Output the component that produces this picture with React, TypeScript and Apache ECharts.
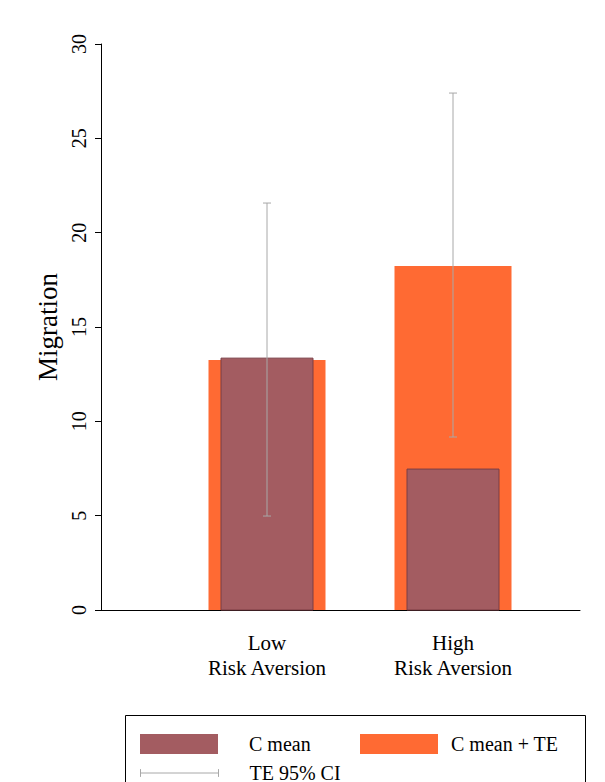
import React, { useEffect, useRef } from "react";
import * as echarts from "echarts";

const categories = ["Low\nRisk Aversion", "High\nRisk Aversion"];
const catPos = [166, 352]; // positions along hidden x scale (0..479)
const cMean = [13.35, 7.47];
const cMeanTE = [13.25, 18.23];
const ciLow = [4.98, 9.17];
const ciHigh = [21.57, 27.4];
const yTicks = [0, 5, 10, 15, 20, 25, 30];

const MAROON = "#a35c61";
const ORANGE = "#ff6a33";
const GREY = "#a8a8a8";
const FONT = "Liberation Serif";

const barItem = (width: number, color: string, border?: string) => (params: any, api: any) => {
  const base = api.coord([api.value(0), 0]);
  const top = api.coord([api.value(0), api.value(1)]);
  return {
    type: "rect",
    shape: { x: base[0] - width / 2, y: top[1], width, height: base[1] - top[1] },
    style: { fill: color, stroke: border ?? "none", lineWidth: border ? 1 : 0 },
  };
};

const App: React.FC = () => {
  const ref = useRef<HTMLDivElement>(null);

  useEffect(() => {
    if (!ref.current) return;
    const chart = echarts.init(ref.current, undefined, { renderer: "svg" });
    const legendText = { fontSize: 20, color: "#000", fontFamily: FONT };
    const option: echarts.EChartsOption = {
      animation: false,
      backgroundColor: "#fff",
      textStyle: { fontFamily: FONT },
      grid: { left: 101, right: 25, top: 44, bottom: 172 },
      xAxis: {
        type: "value",
        min: 0,
        max: 479,
        splitLine: { show: false },
        axisLine: { show: true, onZero: false, lineStyle: { color: "#000" } },
        axisTick: { show: false },
        axisLabel: {
          customValues: catPos,
          formatter: (v: number) => categories[catPos.indexOf(Math.round(v))] ?? "",
          color: "#000",
          fontSize: 21,
          lineHeight: 25,
          margin: 20,
          fontFamily: FONT,
        },
      },
      yAxis: {
        type: "value",
        min: 0,
        max: 30,
        interval: 5,
        name: "Migration",
        nameLocation: "middle",
        nameGap: 40,
        nameTextStyle: { fontSize: 27, color: "#000", fontFamily: FONT },
        splitLine: { show: false },
        axisLine: { show: true, lineStyle: { color: "#000" } },
        axisTick: { show: true, length: 6, lineStyle: { color: "#000" } },
        axisLabel: {
          rotate: 90,
          color: "#000",
          fontSize: 20,
          margin: 12,
          fontFamily: FONT,
          formatter: (v: number) => (yTicks.includes(v) ? String(v) : ""),
        },
      },
      legend: [
        {
          data: [{ name: "C mean", icon: "rect" }],
          left: 135,
          top: 729,
          itemWidth: 78,
          itemHeight: 20,
          textStyle: { ...legendText, padding: [0, 0, 0, 26] },
        },
        {
          data: [{ name: "C mean + TE", icon: "rect" }],
          left: 355,
          top: 729,
          itemWidth: 78,
          itemHeight: 20,
          textStyle: { ...legendText, padding: [0, 0, 0, 8] },
        },
        {
          data: [{ name: "TE 95% CI", icon: "path://M0,5 L100,5 M0,0 L0,10 M100,0 L100,10" }],
          left: 135,
          top: 758,
          itemWidth: 78,
          itemHeight: 10,
          itemStyle: { color: "transparent", borderColor: GREY, borderWidth: 1 },
          textStyle: { ...legendText, padding: [0, 0, 0, 26] },
        },
      ],
      graphic: [
        {
          type: "rect",
          shape: { x: 125.5, y: 715.5, width: 460, height: 80 },
          style: { fill: "none", stroke: "#000", lineWidth: 1 },
        },
      ],
      series: [
        {
          name: "C mean + TE",
          type: "custom",
          itemStyle: { color: ORANGE },
          z: 1,
          data: catPos.map((x, i) => [x, cMeanTE[i]]),
          renderItem: barItem(117, ORANGE) as any,
        },
        {
          name: "C mean",
          type: "custom",
          itemStyle: { color: MAROON },
          z: 2,
          data: catPos.map((x, i) => [x, cMean[i]]),
          renderItem: barItem(92, MAROON, "#7a3d44") as any,
        },
        {
          name: "TE 95% CI",
          type: "custom",
          itemStyle: { color: GREY },
          z: 3,
          data: catPos.map((x, i) => [x, ciLow[i], ciHigh[i]]),
          renderItem: (params: any, api: any) => {
            const lo = api.coord([api.value(0), api.value(1)]);
            const hi = api.coord([api.value(0), api.value(2)]);
            const cap = 4;
            const style = { stroke: GREY, lineWidth: 1 };
            return {
              type: "group",
              children: [
                { type: "line", shape: { x1: lo[0], y1: lo[1], x2: hi[0], y2: hi[1] }, style },
                { type: "line", shape: { x1: lo[0] - cap, y1: lo[1], x2: lo[0] + cap, y2: lo[1] }, style },
                { type: "line", shape: { x1: hi[0] - cap, y1: hi[1], x2: hi[0] + cap, y2: hi[1] }, style },
              ],
            };
          },
        },
      ],
    };
    chart.setOption(option);
    return () => chart.dispose();
  }, []);

  return (
    <div
      ref={ref}
      style={{ position: "fixed", left: 0, top: 0, width: "605px", height: "782px" }}
    />
  );
};

export default App;
